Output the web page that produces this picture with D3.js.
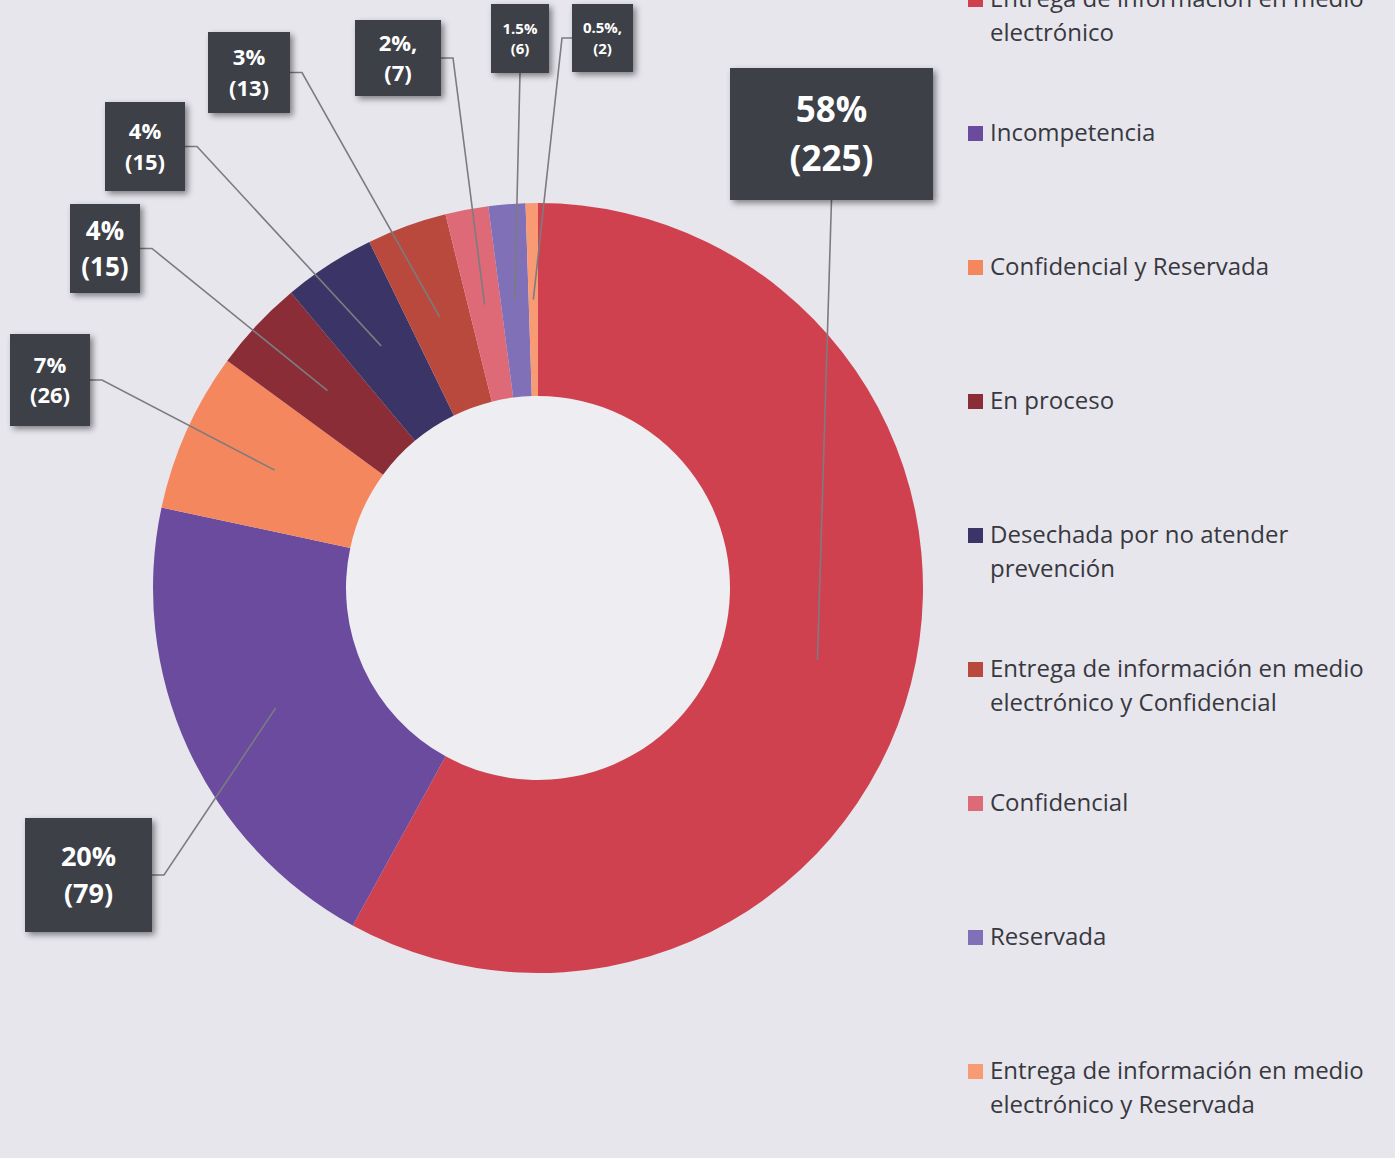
<!DOCTYPE html>
<html>
<head>
<meta charset="utf-8">
<script src="https://cdn.jsdelivr.net/npm/d3@7"></script>
<style>
  html, body { margin: 0; padding: 0; background: #e7e6ed; }
  svg { display: block; }
</style>
</head>
<body>
<script>
// categories in legend / slice order
const categories = [
  'Entrega de información en medio electrónico',
  'Incompetencia',
  'Confidencial y Reservada',
  'En proceso',
  'Desechada por no atender prevención',
  'Entrega de información en medio electrónico y Confidencial',
  'Confidencial',
  'Reservada',
  'Entrega de información en medio electrónico y Reservada'
];
const values = [225, 79, 26, 15, 15, 13, 7, 6, 2];
const pctLabels = ['58%', '20%', '7%', '4%', '4%', '3%', '2%,', '1.5%', '0.5%,'];
const colors = ['#d0414f', '#6b4b9e', '#f5875f', '#8a2d37', '#3b3466',
  '#b8493c', '#df6a77', '#7f70b8', '#f89b74'];

// label box placement (layout only)
const labelLayout = [
  { x: 730, y: 68, w: 203, h: 132, fs: 35, side: 'bottom' },
  { x: 25, y: 818, w: 127, h: 114, fs: 27, side: 'right' },
  { x: 10, y: 334, w: 80, h: 92, fs: 22, side: 'right' },
  { x: 70, y: 204, w: 70, h: 89, fs: 26, side: 'right' },
  { x: 105, y: 102, w: 80, h: 89, fs: 22, side: 'right' },
  { x: 208, y: 32, w: 82, h: 81, fs: 22, side: 'right' },
  { x: 355, y: 20, w: 86, h: 76, fs: 22, side: 'right' },
  { x: 491, y: 4, w: 58, h: 69, fs: 15, side: 'bottom' },
  { x: 572, y: 4, w: 61, h: 68, fs: 15, side: 'left' }
];

const W = 1395, H = 1158;
const cx = 538, cy = 588;
const outerR = 385, innerR = 192;

const svg = d3.select('body').append('svg')
  .attr('width', W)
  .attr('height', H);

const defs = svg.append('defs');
const shadow = defs.append('filter')
  .attr('id', 'shadow')
  .attr('x', '-20%').attr('y', '-20%')
  .attr('width', '150%').attr('height', '150%');
shadow.append('feDropShadow')
  .attr('dx', 3).attr('dy', 3)
  .attr('stdDeviation', 3)
  .attr('flood-color', '#000')
  .attr('flood-opacity', 0.45);

svg.append('rect')
  .attr('width', W).attr('height', H)
  .attr('fill', '#e7e6ed');

const pie = d3.pie().sort(null).value(d => d)(values);
const arc = d3.arc().innerRadius(innerR).outerRadius(outerR);

const g = svg.append('g').attr('transform', `translate(${cx},${cy})`);

// lighter hole, like the reference
g.append('circle')
  .attr('r', innerR)
  .attr('fill', '#eeedf2');

g.selectAll('path.slice')
  .data(pie)
  .enter()
  .append('path')
  .attr('class', 'slice')
  .attr('d', arc)
  .attr('fill', (d, i) => colors[i]);

// leader lines
const leaders = svg.append('g');
pie.forEach((d, i) => {
  const L = labelLayout[i];
  const c = arc.centroid(d);
  const end = [cx + c[0], cy + c[1]];
  let pts;
  if (L.side === 'bottom') {
    pts = [[L.x + L.w / 2, L.y + L.h], end];
  } else if (L.side === 'right') {
    const my = L.y + L.h / 2;
    pts = [[L.x + L.w, my], [L.x + L.w + 12, my], end];
  } else {
    const my = L.y + L.h / 2;
    pts = [[L.x, my], [L.x - 10, my], end];
  }
  leaders.append('path')
    .attr('d', d3.line()(pts))
    .attr('fill', 'none')
    .attr('stroke', '#7b7b80')
    .attr('stroke-width', 1.6);
});

// label boxes
const boxes = svg.append('g');
values.forEach((v, i) => {
  const L = labelLayout[i];
  boxes.append('rect')
    .attr('x', L.x).attr('y', L.y)
    .attr('width', L.w).attr('height', L.h)
    .attr('fill', '#3c4047')
    .attr('filter', 'url(#shadow)');
  const lh = L.fs * 1.38;
  const midY = L.y + L.h / 2;
  const t = boxes.append('text')
    .attr('text-anchor', 'middle')
    .attr('fill', '#ffffff')
    .style('font-family', '"Open Sans", sans-serif')
    .style('font-weight', 'bold')
    .style('font-size', L.fs + 'px');
  t.append('tspan')
    .attr('x', L.x + L.w / 2)
    .attr('y', midY - lh / 2 + L.fs * 0.36)
    .text(pctLabels[i]);
  t.append('tspan')
    .attr('x', L.x + L.w / 2)
    .attr('y', midY + lh / 2 + L.fs * 0.36)
    .text('(' + v + ')');
});

// legend
const legend = svg.append('g');
const legendStep = 134;
const legendTop = -1;
const wrapWidth = 395;
categories.forEach((name, i) => {
  const y = legendTop + i * legendStep;
  legend.append('rect')
    .attr('x', 968).attr('y', y - 7)
    .attr('width', 15).attr('height', 15)
    .attr('fill', colors[i]);
  const text = legend.append('text')
    .attr('fill', '#38383f')
    .style('font-family', '"Open Sans", sans-serif')
    .style('font-size', '24px');
  // simple word wrap
  const words = name.split(' ');
  let line = [];
  let lineNo = 0;
  let tspan = text.append('tspan').attr('x', 990).attr('y', y + 8);
  words.forEach(w => {
    line.push(w);
    tspan.text(line.join(' '));
    if (tspan.node().getComputedTextLength() > wrapWidth && line.length > 1) {
      line.pop();
      tspan.text(line.join(' '));
      line = [w];
      lineNo++;
      tspan = text.append('tspan')
        .attr('x', 990)
        .attr('y', y + 8 + lineNo * 34)
        .text(w);
    }
  });
});
</script>
</body>
</html>
